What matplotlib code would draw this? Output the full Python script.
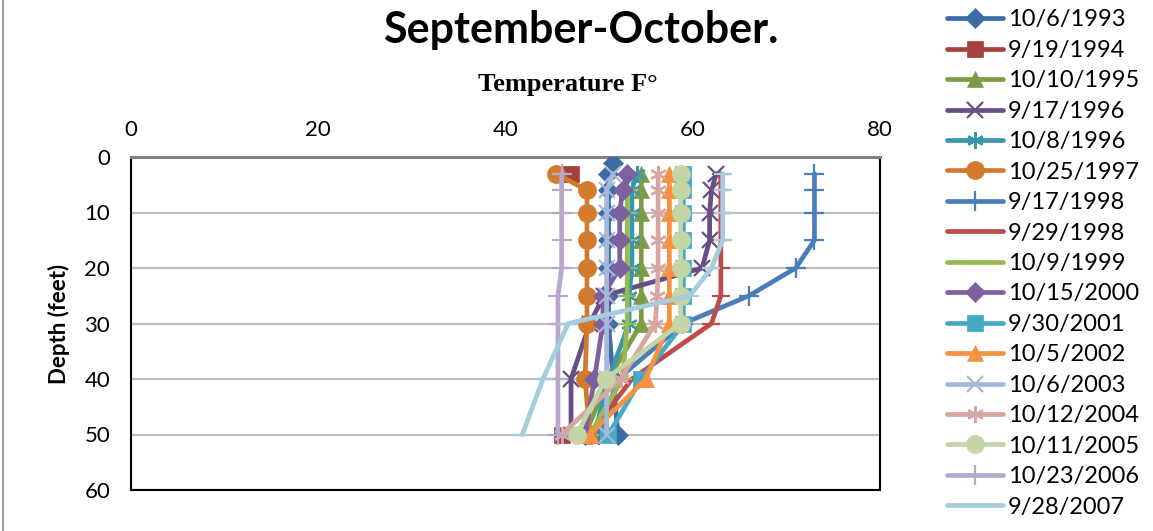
import numpy as np
import matplotlib
matplotlib.use('Agg')
import matplotlib.pyplot as plt
from matplotlib.lines import Line2D

nan = np.nan

# ---- data ----
depths = [3, 6, 10, 15, 20, 25, 30, 40, 50]
depths_1993 = [1, 3, 6, 10, 15, 20, 25, 30, 40, 50]

series_labels = ["10/6/1993", "9/19/1994", "10/10/1995", "9/17/1996", "10/8/1996",
                 "10/25/1997", "9/17/1998", "9/29/1998", "10/9/1999", "10/15/2000",
                 "9/30/2001", "10/5/2002", "10/6/2003", "10/12/2004", "10/11/2005",
                 "10/23/2006", "9/28/2007"]

t_19931006 = [51.5, 51, 51, 51, 51, 51, 51, 51, 51.5, 52]
t_19940919 = [47, nan, nan, nan, nan, nan, nan, nan, 46]
t_19951010 = [54.5, 54.5, 54.5, 54.5, 54.5, 54.5, 54.5, 51, 48.5]
t_19960917 = [62.5, 62, 61.8, 61.8, 61, 50.5, 49, 47, 47]
t_19961008 = [54, 53.5, 53.5, 53.5, 53.5, 53.2, 53.2, 51, 49.5]
t_19971025 = [45.4, 48.7, 48.7, 48.7, 48.7, 48.7, 48.7, 48.5, 49]
t_19980917 = [73, 73, 73, 73, 71, 66, 59, 52, 50]
t_19980929 = [63, 63, 63, 63, 63, 63, 62, 53.5, 49]
t_19991009 = [53, 53, 53, 53, 53, 53, 53, 52.5, 49]
t_20001015 = [53, 52.5, 52.2, 52.2, 52.2, 50.4, 50.4, 49.5, 48.5]
t_20010930 = [59, 59, 59, 59, 59, 59, 59, 54.5, 51]
t_20021005 = [57.5, 57.5, 57.5, 57.5, 57.5, 57.5, 57.5, 55, 49]
t_20031006 = [51.5, 50.8, 50.8, 50.8, 50.8, 50.8, 50.8, 50.8, 50.8]
t_20041012 = [56.3, 56.3, 56.3, 56.3, 56.3, 56.2, 56, 52.3, 46]
t_20051011 = [58.7, 58.7, 58.7, 58.7, 58.7, 58.7, 58.7, 50.7, 47.6]
t_20061023 = [46, 46, 46, 46, 46, 45.6, 45.6, 45.6, 45.6]
t_20070928 = [63.2, 63.2, 63.2, 63.2, 62, 59.7, 46.7, 44, 41.8]

x_ticks = [0, 20, 40, 60, 80]
y_ticks = [0, 10, 20, 30, 40, 50, 60]

all_temps = [t_19931006, t_19940919, t_19951010, t_19960917, t_19961008,
             t_19971025, t_19980917, t_19980929, t_19991009, t_20001015,
             t_20010930, t_20021005, t_20031006, t_20041012, t_20051011,
             t_20061023, t_20070928]

# ---- styles ----
colors = ["#3C6BA5", "#A4403D", "#7E9C47", "#664E86", "#3A97AB", "#D27B2F",
          "#4A7EBB", "#BE4B48", "#98B954", "#7D60A0", "#46AAC5", "#F69240",
          "#A5B8D9", "#D9A5A3", "#C4D6A5", "#B6A9CB", "#A5CDDB"]
asterisk = (6, 2, 0)
markers = ['D', 's', '^', 'x', asterisk, 'o', '+', '_', '_', 'D', 's', '^',
           'x', asterisk, 'o', '+', '_']
msizes = [10, 11, 11, 12, 12, 13, 14, 13, 13, 10, 11, 11, 12, 12, 13, 14, 13]

plt.rcParams['font.family'] = ['Lato', 'DejaVu Sans']

fig = plt.figure(figsize=(11.53, 5.31), dpi=100)
ax = fig.add_axes([131/1153, 1 - 490/531, (880-131)/1153, (490-157)/531])

for i, temps in enumerate(all_temps):
    d = depths_1993 if i == 0 else depths
    m = markers[i]
    thin = m in ('x', '+', '_') or isinstance(m, tuple)
    ax.plot(temps, d, color=colors[i], lw=3.4, marker=m, markersize=msizes[i],
            markeredgewidth=(1.6 if thin else 0.5), markerfacecolor=colors[i],
            markeredgecolor=colors[i], label=series_labels[i],
            solid_joinstyle='round', solid_capstyle='round', zorder=3 + i * 0.01)

ax.set_xlim(0, 80)
ax.set_ylim(60, 0)
ax.set_xticks(x_ticks)
ax.set_yticks(y_ticks)
ax.xaxis.tick_top()
ax.tick_params(axis='both', length=0, labelsize=16)
ax.tick_params(axis='x', pad=12)
ax.tick_params(axis='y', pad=15)
ax.grid(axis='y', color='#BEBEBE', lw=1.6)
ax.set_axisbelow(True)
for s in ['left', 'right', 'bottom']:
    ax.spines[s].set_color('black')
    ax.spines[s].set_linewidth(1.5)
ax.spines['top'].set_color('#7F7F7F')
ax.spines['top'].set_linewidth(2.2)

ax.set_ylabel("Depth (feet)", fontsize=16, fontweight='bold', labelpad=10)

fig.text(581/1153, 1 - 30/531, "September-October.", ha='center', va='center',
         fontsize=31, fontweight='bold')
fig.text(568/1153, 1 - 85/531, "Temperature F°", ha='center', va='center',
         fontsize=19, fontweight='bold', family=['Liberation Serif', 'DejaVu Serif'])

leg = fig.legend(loc='upper left', bbox_to_anchor=(938/1153, 1 - 0/531),
                 frameon=False, fontsize=17, handlelength=2.35, handletextpad=0.2,
                 labelspacing=0.40, borderaxespad=0)

fig.add_artist(Line2D([3/1153, 3/1153], [0, 1], color='#8C8C8C', lw=1.2))

fig.savefig('out.png', dpi=100)
